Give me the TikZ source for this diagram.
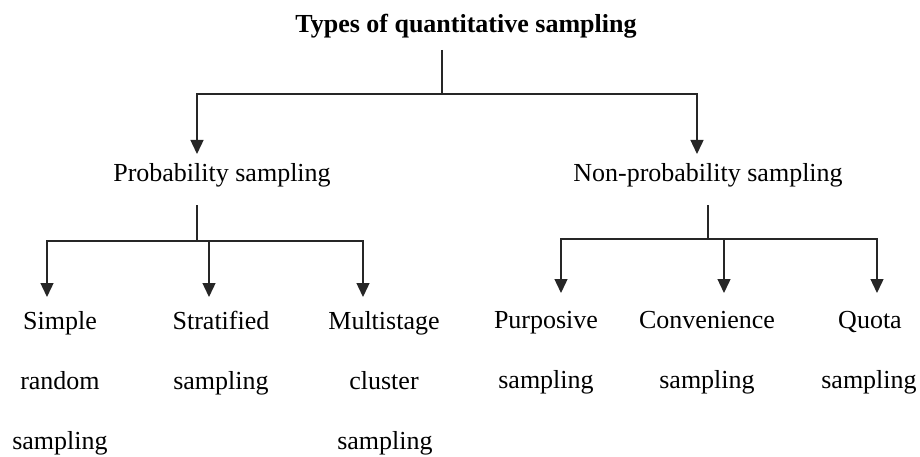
\documentclass[tikz,border=0pt]{standalone}
\usepackage{fontspec}
\setmainfont{Liberation Serif}
\usetikzlibrary{arrows.meta}
\begin{document}
\begin{tikzpicture}[x=1pt,y=-1pt,
  lbl/.style={inner sep=0pt,anchor=base,font=\fontsize{26}{30}\selectfont},
  ttl/.style={inner sep=0pt,anchor=base,font=\fontsize{26}{30}\selectfont\bfseries},
  conn/.style={line width=1.4pt,draw=black!85},
  arr/.style={conn,-{Triangle[length=14pt,width=13pt]}}]
\useasboundingbox (0,0) rectangle (920,457);
% texts
\node[ttl] (title) at (466,33) {Types of quantitative sampling};
\node[lbl] (prob) at (222,182) {Probability sampling};
\node[lbl] (nonprob) at (708,182) {Non-probability sampling};
\node[lbl] (simple) at (60,329) {Simple};
\node[lbl] (simple2) at (60,389) {random};
\node[lbl] (simple3) at (60,449) {sampling};
\node[lbl] (strat) at (221,329) {Stratified};
\node[lbl] (strat2) at (221,389) {sampling};
\node[lbl] (multi) at (384,329) {Multistage};
\node[lbl] (multi2) at (384,389) {cluster};
\node[lbl] (multi3) at (385,449) {sampling};
\node[lbl] (purp) at (546,328) {Purposive};
\node[lbl] (purp2) at (546,388) {sampling};
\node[lbl] (conv) at (707,328) {Convenience};
\node[lbl] (conv2) at (707,388) {sampling};
\node[lbl] (quota) at (870,328) {Quota};
\node[lbl] (quota2) at (869,388) {sampling};
% top tree
\coordinate (t0) at (442,50);
\coordinate (tj) at (442,94);
\coordinate (tprob) at (197,154);
\coordinate (tnon) at (697,154);
\draw[conn] (t0) -- (tj);
\draw[arr] (tj) -| (tprob);
\draw[arr] (tj) -| (tnon);
% left tree
\coordinate (p0) at (197,205);
\coordinate (pj) at (197,241);
\coordinate (psim) at (47,297);
\coordinate (pstr) at (209,297);
\coordinate (pmul) at (363,297);
\draw[conn] (p0) -- (pj);
\draw[arr] (pj) -| (psim);
\draw[arr] (pj) -| (pmul);
\draw[arr] (pstr |- pj) -- (pstr);
% right tree
\coordinate (n0) at (708,205);
\coordinate (nj) at (708,239);
\coordinate (npur) at (561,293);
\coordinate (ncon) at (724,293);
\coordinate (nquo) at (877,293);
\draw[conn] (n0) -- (nj);
\draw[arr] (nj) -| (npur);
\draw[arr] (nj) -| (nquo);
\draw[arr] (ncon |- nj) -- (ncon);
\end{tikzpicture}
\end{document}
